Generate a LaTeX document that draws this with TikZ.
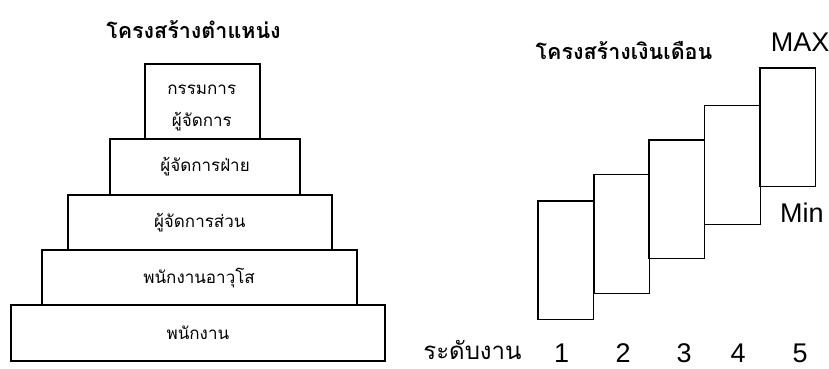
\documentclass[tikz,border=0pt]{standalone}
\usepackage{fontspec}
\setmainfont{Liberation Sans}
\newfontfamily\thai[Script=Thai]{Loma}
\begin{document}
\begin{tikzpicture}[x=1pt,y=-1pt,
  lbox/.style={draw, line width=1.8pt, inner sep=0pt, anchor=north west, font=\thai\fontsize{17}{20}\selectfont, align=center},
  ltxt/.style={font=\thai\fontsize{17}{20}\selectfont, inner sep=0pt},
  rbox/.style={draw, line width=1.3pt, inner sep=0pt, anchor=north west, minimum width=55.5pt, minimum height=118.8pt},
  ttl/.style={font=\thai\bfseries\fontsize{21.5}{25}\selectfont, inner sep=0pt},
  lab/.style={font=\fontsize{27}{30}\selectfont, inner sep=0pt, anchor=base}]
\useasboundingbox (0,0) rectangle (829,369);
% left pyramid
\node[ttl] (t1) at (193.5,30) {โครงสร้างตำแหน่ง};
\node[lbox, minimum width=115pt, minimum height=75pt] (b1) at (144.3,63.3) {};
\node[ltxt] (b1a) at (201.8,90) {กรรมการ};
\node[ltxt] (b1b) at (201.8,122) {ผู้จัดการ};
\node[lbox, minimum width=189.7pt, minimum height=55.7pt] (b2) at (109.3,138.3) {ผู้จัดการฝ่าย};
\node[lbox, minimum width=264.3pt, minimum height=55.3pt] (b3) at (66.7,194) {ผู้จัดการส่วน};
\node[lbox, minimum width=315pt, minimum height=55pt] (b4) at (40.7,249.3) {พนักงานอาวุโส};
\node[lbox, minimum width=374pt, minimum height=55.7pt] (b5) at (10,304.3) {พนักงาน};
% right salary structure
\node[ttl] (t2) at (624,51) {โครงสร้างเงินเดือน};
\node[rbox] (s1) at (537.3,200.3) {};
\node[rbox] (s2) at (593.3,174) {};
\node[rbox] (s3) at (648.3,139.3) {};
\node[rbox] (s4) at (704,105) {};
\node[rbox] (s5) at (759.3,67.3) {};
\node[lab, anchor=base west] (max) at (770.7,51.7) {MAX};
\node[lab, anchor=base west] (min) at (780,222.7) {Min};
\node[font=\thai\fontsize{24}{28}\selectfont, inner sep=0pt, anchor=base] (lv) at (472.5,359) {ระดับงาน};
\node[lab] (n1) at (561.7,362.5) {1};
\node[lab] (n2) at (623,362.5) {2};
\node[lab] (n3) at (684,362.5) {3};
\node[lab] (n4) at (738,362.5) {4};
\node[lab] (n5) at (800,362.5) {5};
\end{tikzpicture}
\end{document}
